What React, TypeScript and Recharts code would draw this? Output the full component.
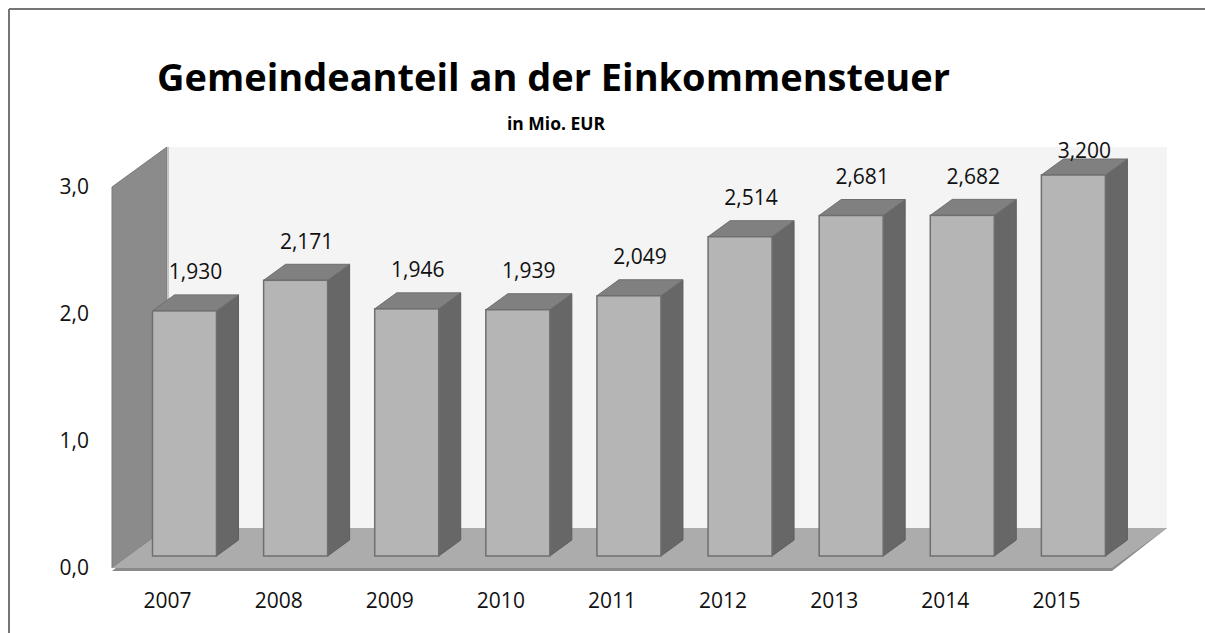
import React from "react";
import { BarChart, Bar, XAxis, YAxis, LabelList, Customized } from "recharts";

const years = ["2007", "2008", "2009", "2010", "2011", "2012", "2013", "2014", "2015"];
const amounts = [1.93, 2.171, 1.946, 1.939, 2.049, 2.514, 2.681, 2.682, 3.2];
const yTicks = [0, 1, 2, 3];

const AXIS_MAX = 3;

const data = years.map((year, i) => ({ year, value: amounts[i] }));

// plot box and 3D depth of the walls / floor
const LEFT = 112;
const TOP = 187;
const PLOT_W = 1000;
const PLOT_H = 381;
const DEPTH_X = 55;
const DEPTH_Y = -40;
const X_AXIS_H = 30;
// bars sit 30% back in the room and are 40% deep
const BAR_SHIFT = 0.3;
const BAR_DEPTH = 0.4;

const font = "'Open Sans', 'DejaVu Sans', sans-serif";

function Room() {
  const bottom = TOP + PLOT_H;
  const bx = LEFT + DEPTH_X;
  const by = TOP + DEPTH_Y;
  return (
    <g>
      {/* outer frame: only top and left edges are inside the picture */}
      <line x1={9} y1={9} x2={1205} y2={9} stroke="#767676" strokeWidth={2} />
      <line x1={9} y1={9} x2={9} y2={633} stroke="#767676" strokeWidth={2} />
      <text x={157} y={91} fontFamily={font} fontWeight={700} fontSize={38} fill="#000"
        textLength={793} lengthAdjust="spacingAndGlyphs">
        Gemeindeanteil an der Einkommensteuer
      </text>
      <text x={507} y={130} fontFamily={font} fontWeight={700} fontSize={17} fill="#000"
        textLength={98} lengthAdjust="spacingAndGlyphs">
        in Mio. EUR
      </text>
      {/* back wall */}
      <rect x={bx} y={by} width={PLOT_W} height={PLOT_H} fill="#f4f4f4" />
      {/* side wall */}
      <polygon
        points={`${LEFT},${bottom} ${LEFT},${TOP} ${bx},${by} ${bx},${bottom + DEPTH_Y}`}
        fill="#8b8b8b"
        stroke="#7a7a7a"
        strokeWidth={1}
      />
      <line x1={bx + 1} y1={by} x2={bx + 1} y2={bottom + DEPTH_Y} stroke="#c4c4c4" strokeWidth={2} />
      {/* floor with a thin front edge */}
      <polygon
        points={`${LEFT},${bottom + 3} ${LEFT + PLOT_W},${bottom + 3} ${LEFT + PLOT_W + DEPTH_X},${bottom + DEPTH_Y} ${bx},${bottom + DEPTH_Y}`}
        fill="#8a8a8a"
      />
      <polygon
        points={`${LEFT},${bottom} ${LEFT + PLOT_W},${bottom} ${LEFT + PLOT_W + DEPTH_X},${bottom + DEPTH_Y} ${bx},${bottom + DEPTH_Y}`}
        fill="#acacac"
      />
    </g>
  );
}

function Bar3D(props: any) {
  const { x, y, width, height } = props;
  const sx = DEPTH_X * BAR_SHIFT;
  const sy = DEPTH_Y * BAR_SHIFT;
  const dx = DEPTH_X * BAR_DEPTH;
  const dy = DEPTH_Y * BAR_DEPTH;
  const fx = x + sx;
  const fy = y + sy;
  const fb = y + height + sy;
  return (
    <g>
      <polygon
        points={`${fx + width},${fy} ${fx + width + dx},${fy + dy} ${fx + width + dx},${fb + dy} ${fx + width},${fb}`}
        fill="#676767"
        stroke="#5e5e5e"
        strokeWidth={1}
      />
      <polygon
        points={`${fx},${fy} ${fx + dx},${fy + dy} ${fx + width + dx},${fy + dy} ${fx + width},${fy}`}
        fill="#808080"
        stroke="#6e6e6e"
        strokeWidth={1}
      />
      <rect x={fx} y={fy} width={width} height={height} fill="#b5b5b5" stroke="#6f6f6f" strokeWidth={1.5} />
    </g>
  );
}

function ValueLabel(props: any) {
  const { x, y, width, index } = props;
  const cx = x + width / 2 + DEPTH_X * BAR_SHIFT + (DEPTH_X * BAR_DEPTH) / 2;
  const topBack = y + DEPTH_Y * (BAR_SHIFT + BAR_DEPTH);
  const cy = Math.max(topBack - 23, TOP - 36);
  const raw = amounts[index];
  return (
    <text x={cx} y={cy} dy="0.35em" textAnchor="middle" fontFamily={font} fontSize={21} fill="#111">
      {raw.toFixed(3).replace(".", ",")}
    </text>
  );
}

export default function App() {
  return (
    <div style={{ position: "absolute", left: 0, top: 0, width: 1205, height: 633, background: "#fff" }}>
      <BarChart
        width={1205}
        height={633}
        data={data}
        margin={{ top: TOP, right: 1205 - LEFT - PLOT_W, bottom: 633 - TOP - PLOT_H - X_AXIS_H, left: LEFT - 60 }}
        barSize={64}
      >
        <Customized component={Room} />
        <XAxis
          dataKey="year"
          height={X_AXIS_H}
          axisLine={false}
          tickLine={false}
          tickSize={0}
          tickMargin={25}
          interval={0}
          tick={{ fontFamily: font, fontSize: 21, fill: "#111" }}
        />
        <YAxis
          width={60}
          domain={[0, AXIS_MAX]}
          ticks={yTicks}
          axisLine={false}
          tickLine={false}
          tickSize={0}
          tickMargin={23}
          tickFormatter={(v: number) => v.toFixed(1).replace(".", ",")}
          tick={{ fontFamily: font, fontSize: 21, fill: "#111" }}
        />
        <Bar
          dataKey={(d: any) => Math.min(d.value, AXIS_MAX)}
          shape={<Bar3D />}
          isAnimationActive={false}
        >
          <LabelList content={<ValueLabel />} />
        </Bar>
      </BarChart>
    </div>
  );
}
